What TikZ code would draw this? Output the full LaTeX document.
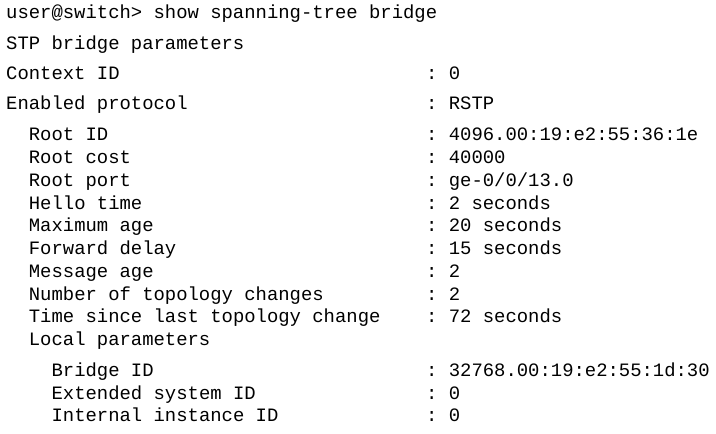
\documentclass[tikz,border=0pt]{standalone}
\usepackage{fontspec}
\setmonofont{Liberation Mono}
\begin{document}
\begin{tikzpicture}[x=1pt,y=-1pt,
  term/.style={anchor=base west,inner sep=0pt,font=\ttfamily\fontsize{18.9}{20}\selectfont}]
  \useasboundingbox[fill=white] (0,0) rectangle (716,434);
  % column of a character: 6 + 11.35*col
  \node[term] (cmd) at (6,18) {user@switch> show spanning-tree bridge};
  \node[term] (head) at (6,49) {STP bridge parameters};
  \foreach\row/\col/\key/\val in {
      79/0/Context ID/0,
      109/0/Enabled protocol/RSTP,
      140/2/Root ID/4096.00:19:e2:55:36:1e,
      163/2/Root cost/40000,
      186/2/Root port/ge-0{/}0{/}13.0,
      209/2/Hello time/2 seconds,
      231/2/Maximum age/20 seconds,
      254/2/Forward delay/15 seconds,
      277/2/Message age/2,
      300/2/Number of topology changes/2,
      322/2/Time since last topology change/72 seconds,
      376/4/Bridge ID/32768.00:19:e2:55:1d:30,
      399/4/Extended system ID/0,
      421/4/Internal instance ID/0}{
    \node[term] (key\row) at ({6+11.35*\col},\row) {\key};
    \node[term] (sep\row) at ({6+11.35*37},\row) {:};
    \node[term] (val\row) at ({6+11.35*39},\row) {\val};
  }
  \node[term] (local) at ({6+11.35*2},345) {Local parameters};
\end{tikzpicture}
\end{document}
